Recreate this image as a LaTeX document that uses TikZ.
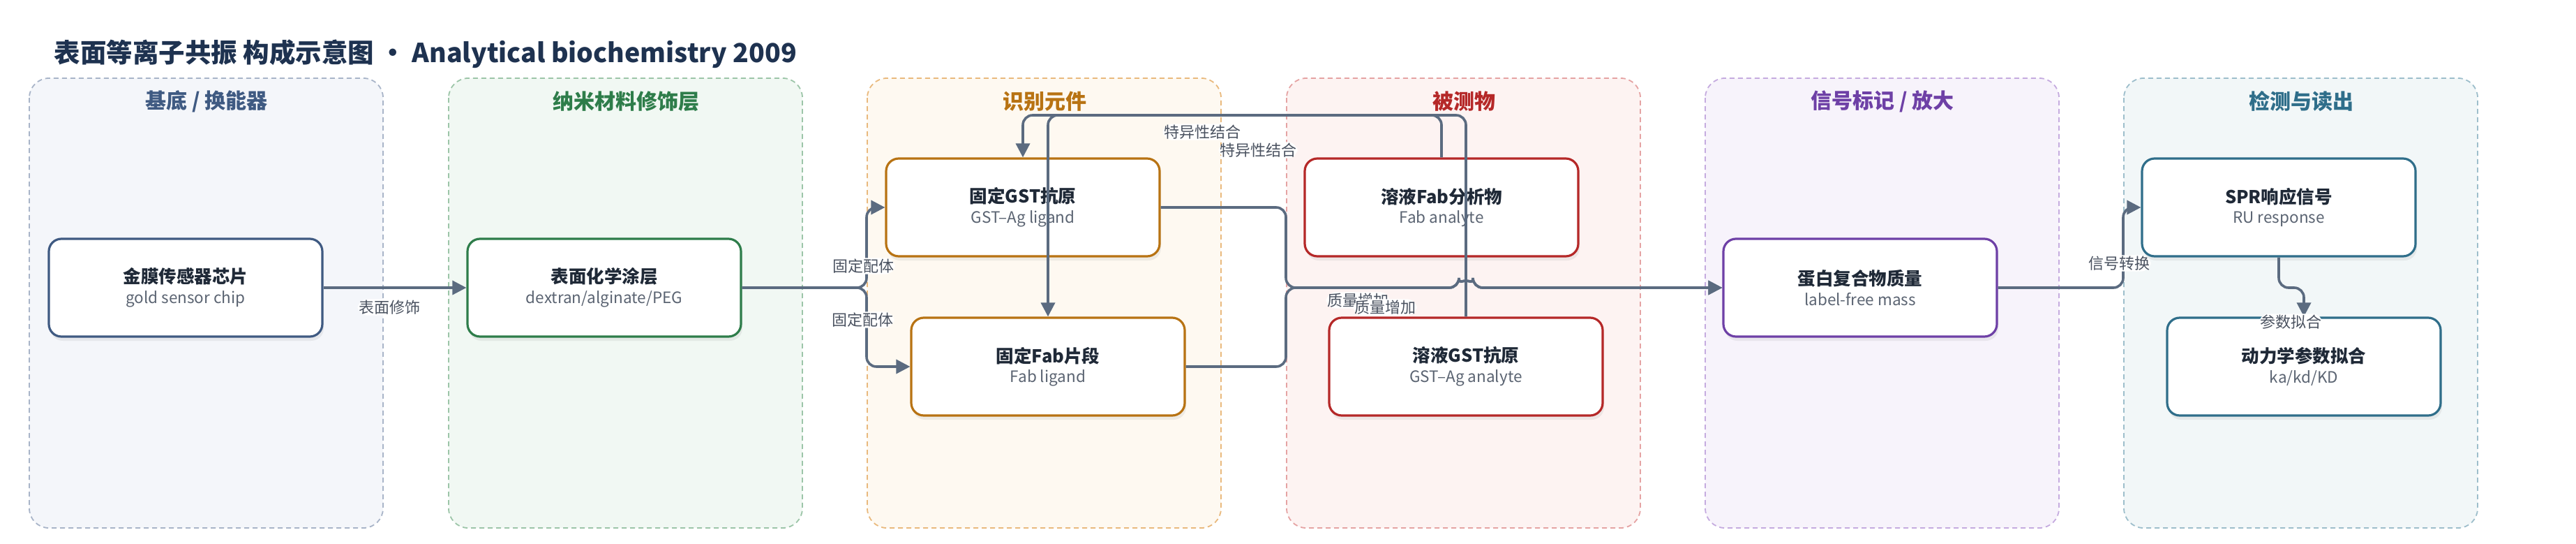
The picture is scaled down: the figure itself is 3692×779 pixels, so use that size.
\documentclass[tikz,border=0pt]{standalone}
\usepackage{fontspec}
\setmainfont{Noto Sans CJK SC}
\usetikzlibrary{arrows.meta,shadows}
\definecolor{titlec}{HTML}{1E3250}
\definecolor{headc}{HTML}{1F2937}
\definecolor{subc}{HTML}{5B6472}
\definecolor{linec}{HTML}{5B6B80}
\definecolor{tagc}{HTML}{4A5260}
\definecolor{subsfill}{HTML}{F4F6FA}\definecolor{subsline}{HTML}{A8B4C8}\definecolor{subsc}{HTML}{3F5A82}
\definecolor{nanofill}{HTML}{F1F8F3}\definecolor{nanoline}{HTML}{9CC5A8}\definecolor{nanoc}{HTML}{2E7D4A}
\definecolor{recfill}{HTML}{FEF9F1}\definecolor{recline}{HTML}{E9B97D}\definecolor{recc}{HTML}{B87313}
\definecolor{anafill}{HTML}{FDF3F2}\definecolor{analine}{HTML}{E5A3A3}\definecolor{anac}{HTML}{B52828}
\definecolor{sigfill}{HTML}{F7F3FB}\definecolor{sigline}{HTML}{C5ABDF}\definecolor{sigc}{HTML}{6E40A6}
\definecolor{detfill}{HTML}{F2F7F8}\definecolor{detline}{HTML}{9DBECB}\definecolor{detc}{HTML}{2F6E8A}

\tikzstyle{panel} = [rounded corners=28pt, dash pattern=on 7pt off 5pt, line width=1.8pt]
\tikzstyle{paneltitle} = [font=\fontsize{30}{36}\selectfont\bfseries]
\tikzstyle{block} = [draw, rounded corners=18pt, line width=3.2pt, fill=white, minimum width=392pt, minimum height=140pt, align=center, drop shadow={opacity=0.12, shadow xshift=2pt, shadow yshift=-6pt}]
\tikzstyle{connector} = [line width=3.6pt, draw=linec, rounded corners=14pt, -{Triangle[length=20pt,width=20pt]}]
\tikzstyle{tag} = [fill=white, inner sep=1.5pt, text=tagc, font=\fontsize{22}{26}\selectfont]
\newcommand{\blocktext}[2]{{\fontsize{25.5}{30}\selectfont\bfseries\color{headc}#1}\\[7pt]{\fontsize{22.5}{27}\selectfont\color{subc}#2}}

\begin{document}
\begin{tikzpicture}[x=1pt, y=-1pt]
    \useasboundingbox (0,0) rectangle (3692,779);
    \node[anchor=west, text=titlec, font=\fontsize{37.5}{45}\selectfont\bfseries] (title) at (74,77) {表面等离子共振 构成示意图 · Analytical biochemistry 2009};

    \draw[panel, fill=subsfill, draw=subsline] (42,112) rectangle (549,756);
    \draw[panel, fill=nanofill, draw=nanoline] (643,112) rectangle (1150,756);
    \draw[panel, fill=recfill, draw=recline] (1243,112) rectangle (1750,756);
    \draw[panel, fill=anafill, draw=analine] (1844,112) rectangle (2351,756);
    \draw[panel, fill=sigfill, draw=sigline] (2444,112) rectangle (2951,756);
    \draw[panel, fill=detfill, draw=detline] (3044,112) rectangle (3551,756);

    \node[paneltitle, text=subsc] (t1) at (296,145) {基底 / 换能器};
    \node[paneltitle, text=nanoc] (t2) at (897,145) {纳米材料修饰层};
    \node[paneltitle, text=recc] (t3) at (1497,145) {识别元件};
    \node[paneltitle, text=anac] (t4) at (2098,145) {被测物};
    \node[paneltitle, text=sigc] (t5) at (2698,145) {信号标记 / 放大};
    \node[paneltitle, text=detc] (t6) at (3298,145) {检测与读出};

    \node[block, draw=subsc] (chip) at (266,412) {\blocktext{金膜传感器芯片}{gold sensor chip}};
    \node[block, draw=nanoc] (coat) at (866,412) {\blocktext{表面化学涂层}{dextran/alginate/PEG}};
    \node[block, draw=recc] (gstL) at (1466,297) {\blocktext{固定GST抗原}{GST–Ag ligand}};
    \node[block, draw=recc] (fabL) at (1502,525) {\blocktext{固定Fab片段}{Fab ligand}};
    \node[block, draw=anac] (fabA) at (2066,297) {\blocktext{溶液Fab分析物}{Fab analyte}};
    \node[block, draw=anac] (gstA) at (2101,525) {\blocktext{溶液GST抗原}{GST–Ag analyte}};
    \node[block, draw=sigc] (cplx) at (2666,412) {\blocktext{蛋白复合物质量}{label-free mass}};
    \node[block, draw=detc] (spr) at (3266,297) {\blocktext{SPR响应信号}{RU response}};
    \node[block, draw=detc] (kin) at (3302,525) {\blocktext{动力学参数拟合}{ka/kd/KD}};

    \draw[connector] (chip) -- (coat) node[tag] at (558,440) {表面修饰};
    \draw[connector] (coat.east) -- (1242,412) -- (1242,297) -- (gstL.west) node[tag] at (1237,381) {固定配体};
    \draw[connector] (coat.east) -- (1242,412) -- (1242,525) -- (fabL.west) node[tag] at (1236,458) {固定配体};
    \draw[connector] (fabA.north) -- (2066,165) -- (1466,165) -- (gstL.north) node[tag] at (1723,189) {特异性结合};
    \draw[connector] (gstA.north) -- (2101,165) -- (1502,165) -- (fabL.north) node[tag] at (1803,215) {特异性结合};
    \draw[connector] (gstL.east) -- (1843,297) -- (1843,412) -- (2091,412) arc (180:360:10) -- (cplx.west) node[tag] at (1946,430) {质量增加};
    \draw[connector] (fabL.east) -- (1843,525) -- (1843,412) -- (2091,412) arc (180:360:10) -- (cplx.west) node[tag] at (1985,440) {质量增加};
    \draw[connector] (cplx.east) -- (3043,412) -- (3043,297) -- (spr.west) node[tag] at (3037,377) {信号转换};
    \draw[connector] (spr.south) -- (3266,412) -- (3302,412) -- (kin.north) node[tag] at (3283,461) {参数拟合};
\end{tikzpicture}
\end{document}
